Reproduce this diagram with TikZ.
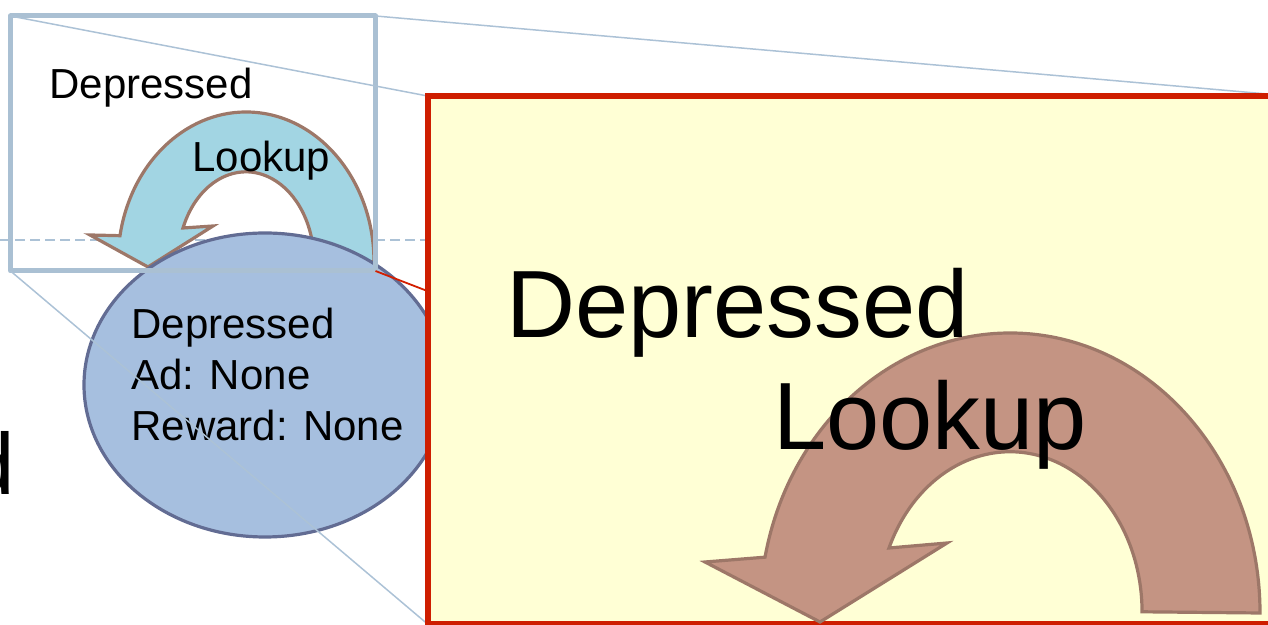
\documentclass[tikz,border=0pt]{standalone}
\usepackage{fontspec}
\setmainfont{Liberation Sans}
\usetikzlibrary{shapes.geometric}
\definecolor{frameblue}{RGB}{170,192,211}
\definecolor{zoomblue}{RGB}{172,194,214}
\definecolor{zoomred}{RGB}{210,30,0}
\definecolor{redframe}{RGB}{206,30,0}
\definecolor{paleyellow}{RGB}{255,255,213}
\definecolor{arrowblue}{RGB}{162,213,227}
\definecolor{arrowbrown}{RGB}{157,119,104}
\definecolor{bigarrowfill}{RGB}{196,148,131}
\definecolor{stateblue}{RGB}{166,191,223}
\definecolor{stateedge}{RGB}{98,108,147}
\begin{document}
\begin{tikzpicture}[x=0.5pt,y=0.5pt,
  zoomline/.style={draw=zoomblue, line width=0.75pt},
  zoomlinered/.style={draw=zoomred, line width=0.9pt},
  guide/.style={draw=zoomblue, line width=1pt, dash pattern=on 5pt off 2.5pt},
  frame/.style={draw=frameblue, line width=2.5pt, line join=round},
  bigframe/.style={draw=redframe, fill=paleyellow, line width=3pt},
  smallarrow/.style={fill=arrowblue, draw=arrowbrown, line width=1.6pt, line join=miter},
  bigarrow/.style={fill=bigarrowfill, draw=arrowbrown, line width=1.6pt, line join=miter},
  statenode/.style={ellipse, draw=stateedge, fill=stateblue, line width=1.6pt, inner sep=0pt,
    minimum width=181pt, minimum height=152pt},
  txt/.style={inner sep=0pt, anchor=base west, font=\fontsize{21}{25}\selectfont},
  bigtxt/.style={inner sep=0pt, anchor=base west, font=\fontsize{47.8}{55}\selectfont}]
\useasboundingbox (0,0) rectangle (1268,625);

% named corner coordinates
\coordinate (sTL) at (10.5,609);
\coordinate (sTR) at (375.5,609);
\coordinate (sBL) at (10.5,354);
\coordinate (sBR) at (375.5,354);
\coordinate (bTL) at (427.5,529);
\coordinate (bTR) at (1290,529);
\coordinate (bBL) at (427.5,1);
\coordinate (bBR) at (1290,1);
\coordinate (dL) at (0,385);
\coordinate (dR) at (427.5,385);

% dashed guide line
\draw[guide] (dL) -- (dR);

% small curved arrow
\draw[smallarrow] (374,363) arc[start angle=0, end angle=169.9, x radius=64pt, y radius=75pt]
  -- (90,390) -- (148,358) -- (213,399) -- (183,397)
  arc[start angle=157.9, end angle=0, x radius=34pt, y radius=45pt] -- cycle;

% state ellipse
\node[statenode] (state) at (265,240) {};
\node[txt] (s1) at (131,286) {Depressed};
\node[txt] (s2) at (131,235) {Ad: None};
\node[txt] (s3) at (131,184) {Reward: None};

% small frame and its texts
\draw[frame] (sBL) rectangle (sTR);
\node[txt] (dep) at (49,526) {Depressed};
\node[txt] (look) at (192,453) {Lookup};

% zoom connector lines
\draw[zoomlinered] (sBR) -- (bBR);
\draw[zoomline] (sTL) -- (bTL);
\draw[zoomline] (sTR) -- (bTR);
\draw[zoomline] (sBL) -- (bBL);

% magnified frame
\draw[bigframe] (bBL) rectangle (bTR);

% big curved arrow
\draw[bigarrow] (1260,12) arc[start angle=0, end angle=168.5, x radius=125pt, y radius=140pt]
  -- (705,63) -- (820,3) -- (947,82) -- (889,77)
  arc[start angle=156.5, end angle=0, x radius=66pt, y radius=80pt] -- cycle;

\node[bigtxt] (bigdep) at (506,287) {Depressed};
\node[bigtxt] (biglook) at (773,175) {Lookup};

% cut-off letter at the left edge (cut in the reference too)
\node[inner sep=0pt, anchor=base west, font=\fontsize{43.5}{50}\selectfont] (cut) at (-34,130) {d};
\end{tikzpicture}
\end{document}
